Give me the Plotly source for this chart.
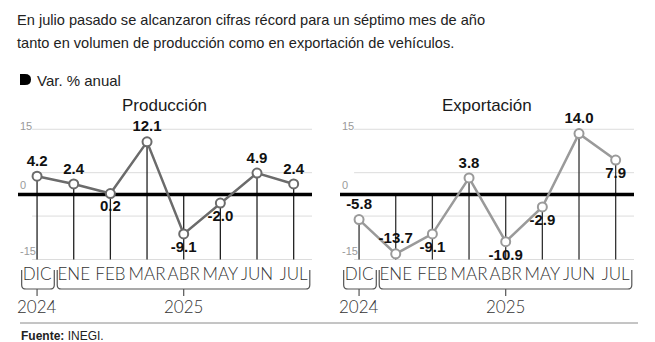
import plotly.graph_objects as go

# Datos: variación % anual
MESES = ["DIC", "ENE", "FEB", "MAR", "ABR", "MAY", "JUN", "JUL"]
PRODUCCION = [4.2, 2.4, 0.2, 12.1, -9.1, -2.0, 4.9, 2.4]
EXPORTACION = [-5.8, -13.7, -9.1, 3.8, -10.9, -2.9, 14.0, 7.9]
POS_PROD = ["top center", "top center", "bottom center", "top center",
            "bottom center", "bottom center", "top center", "top center"]
POS_EXPO = ["top center", "top center", "bottom center", "top center",
            "bottom center", "bottom center", "top center", "bottom center"]
Y_TICKS = [15, 5, 0, -5, -15]
Y_TEXT = ["15", "", "0", "", "-15"]
ANIOS = [("2024", 0), ("2025", 4)]

W, H = 655, 342
Y_MIN, Y_MAX = -15.6, 17
BASE = -15

TITLE_FONT = "Liberation Sans, Arial, sans-serif"
BODY_FONT = "Liberation Sans, Arial, sans-serif"
CAT_FONT = "Lato, Liberation Sans, sans-serif"


def py(px):
    """Pixel row -> paper fraction."""
    return 1 - px / H


fig = go.Figure()

panels = [
    dict(vals=PRODUCCION, pos=POS_PROD, color="#6b6b6b", drop="#222222",
         xa="x", ya="y", dom=[18 / W, 312 / W], title="Producción"),
    dict(vals=EXPORTACION, pos=POS_EXPO, color="#9a9a9a", drop="#333333",
         xa="x2", ya="y2", dom=[340 / W, 634 / W], title="Exportación"),
]

xs = list(range(len(MESES)))

for p in panels:
    # Drop lines from each point (or from zero) to the base of the chart
    dx, dy = [], []
    for i, v in zip(xs, p["vals"]):
        top = v if v > -6 else 0
        dx += [i, i, None]
        dy += [top, BASE, None]
    fig.add_trace(go.Scatter(x=dx, y=dy, mode="lines", xaxis=p["xa"], yaxis=p["ya"],
                             line=dict(color=p["drop"], width=1.3),
                             hoverinfo="skip", showlegend=False))
    # Zero line
    fig.add_trace(go.Scatter(x=[-0.52, 7.5], y=[0, 0], mode="lines",
                             xaxis=p["xa"], yaxis=p["ya"],
                             line=dict(color="#000000", width=3.5),
                             hoverinfo="skip", showlegend=False))
    # Series
    fig.add_trace(go.Scatter(
        x=xs, y=p["vals"], mode="lines+markers+text", xaxis=p["xa"], yaxis=p["ya"],
        text=[f"{v:.1f}" for v in p["vals"]], textposition=p["pos"],
        textfont=dict(family=BODY_FONT, size=15, color="#111111", weight="bold"),
        line=dict(color=p["color"], width=2.5),
        marker=dict(size=9, color="white", line=dict(color=p["color"], width=2)),
        cliponaxis=False, showlegend=False))

    xd = p["dom"]
    axsuf = p["xa"][1:]
    # Light gridlines and value labels of the scale
    for t, lab in zip(Y_TICKS, Y_TEXT):
        if t != 0:
            fig.add_shape(type="line", xref=f"{p['xa']} domain", yref=p["ya"],
                          x0=0.048, x1=1, y0=t, y1=t,
                          line=dict(color="#dcdcdc", width=1), layer="below")
        if lab:
            fig.add_annotation(text=lab, xref=f"{p['xa']} domain", yref=p["ya"],
                               x=0.0, y=t, xanchor="left", yanchor="bottom",
                               yshift=-5 if t == max(Y_TICKS) else 1, showarrow=False,
                               font=dict(family=BODY_FONT, size=11, color="#9a9a9a"))
    # Subplot title
    fig.add_annotation(text=p["title"], xref="paper", yref="paper",
                       x=(xd[0] + xd[1]) / 2, y=py(105), xanchor="center",
                       yanchor="middle", showarrow=False,
                       font=dict(family=BODY_FONT, size=17, color="#1a1a1a"))
    # Year brackets
    for (a, b) in [(-0.42, 0.47), (0.55, 7.44)]:
        y_top, y_bot, r = py(270), py(289), 0.012
        path = (f"M {a},{y_top} L {a},{y_bot + r} Q {a},{y_bot} {a + 0.12},{y_bot} "
                f"L {b - 0.12},{y_bot} Q {b},{y_bot} {b},{y_bot + r} L {b},{y_top}")
        fig.add_shape(type="path", path=path, xref=p["xa"], yref="paper",
                      line=dict(color="#555555", width=1.2))
    for label, c in ANIOS:
        fig.add_shape(type="line", xref=p["xa"], yref="paper", x0=c, x1=c,
                      y0=py(289), y1=py(296), line=dict(color="#555555", width=1.2))
        fig.add_annotation(text=label, xref=p["xa"], yref="paper", x=c, y=py(306),
                           xanchor="center", yanchor="middle", showarrow=False,
                           font=dict(family=CAT_FONT, size=17, color="#333333", weight=300))

    fig.update_layout(**{
        f"xaxis{axsuf}": dict(domain=xd, range=[-0.52, 7.5], tickvals=xs, ticktext=MESES,
                              tickangle=0, showgrid=False, zeroline=False, showline=False,
                              ticks="",
                              tickfont=dict(family=CAT_FONT, size=17, color="#333333",
                                            weight=300),
                              anchor=p["ya"], fixedrange=True),
        f"yaxis{axsuf}": dict(domain=[py(262.1), py(120.6)], range=[Y_MIN, Y_MAX],
                              showticklabels=False, showgrid=False,
                              zeroline=False, showline=False, ticks="",
                              anchor=p["xa"], fixedrange=True),
    })

# Headline
fig.add_annotation(text="En julio pasado se alcanzaron cifras récord para un séptimo mes de año",
                   xref="paper", yref="paper", x=15 / W, y=py(20), xanchor="left",
                   yanchor="middle", showarrow=False,
                   font=dict(family=TITLE_FONT, size=14.6, color="#222222"))
fig.add_annotation(text="tanto en volumen de producción como en exportación de vehículos.",
                   xref="paper", yref="paper", x=15 / W, y=py(43), xanchor="left",
                   yanchor="middle", showarrow=False,
                   font=dict(family=TITLE_FONT, size=14.6, color="#222222"))

# Unit label with its marker
fig.add_shape(type="path", xref="paper", yref="paper",
              path=(f"M {20 / W},{py(74)} L {25 / W},{py(74)} "
                    f"Q {31 / W},{py(74)} {31 / W},{py(79.5)} "
                    f"Q {31 / W},{py(85)} {25 / W},{py(85)} L {20 / W},{py(85)} Z"),
              fillcolor="#000000", line=dict(width=0))
fig.add_annotation(text="Var. % anual", xref="paper", yref="paper", x=35 / W, y=py(80),
                   xanchor="left", yanchor="middle", showarrow=False,
                   font=dict(family=TITLE_FONT, size=15, color="#222222"))

# Footer
fig.add_shape(type="line", xref="paper", yref="paper", x0=20 / W, x1=638 / W,
              y0=py(323), y1=py(323), line=dict(color="#8a8a8a", width=1))
fig.add_annotation(text="<b>Fuente:</b> INEGI.", xref="paper", yref="paper",
                   x=19 / W, y=py(336), xanchor="left", yanchor="middle", showarrow=False,
                   font=dict(family=BODY_FONT, size=12, color="#222222"))

fig.update_layout(width=W, height=H, margin=dict(l=0, r=0, t=0, b=0),
                  paper_bgcolor="white", plot_bgcolor="white", showlegend=False)

fig.write_html("out.html")
